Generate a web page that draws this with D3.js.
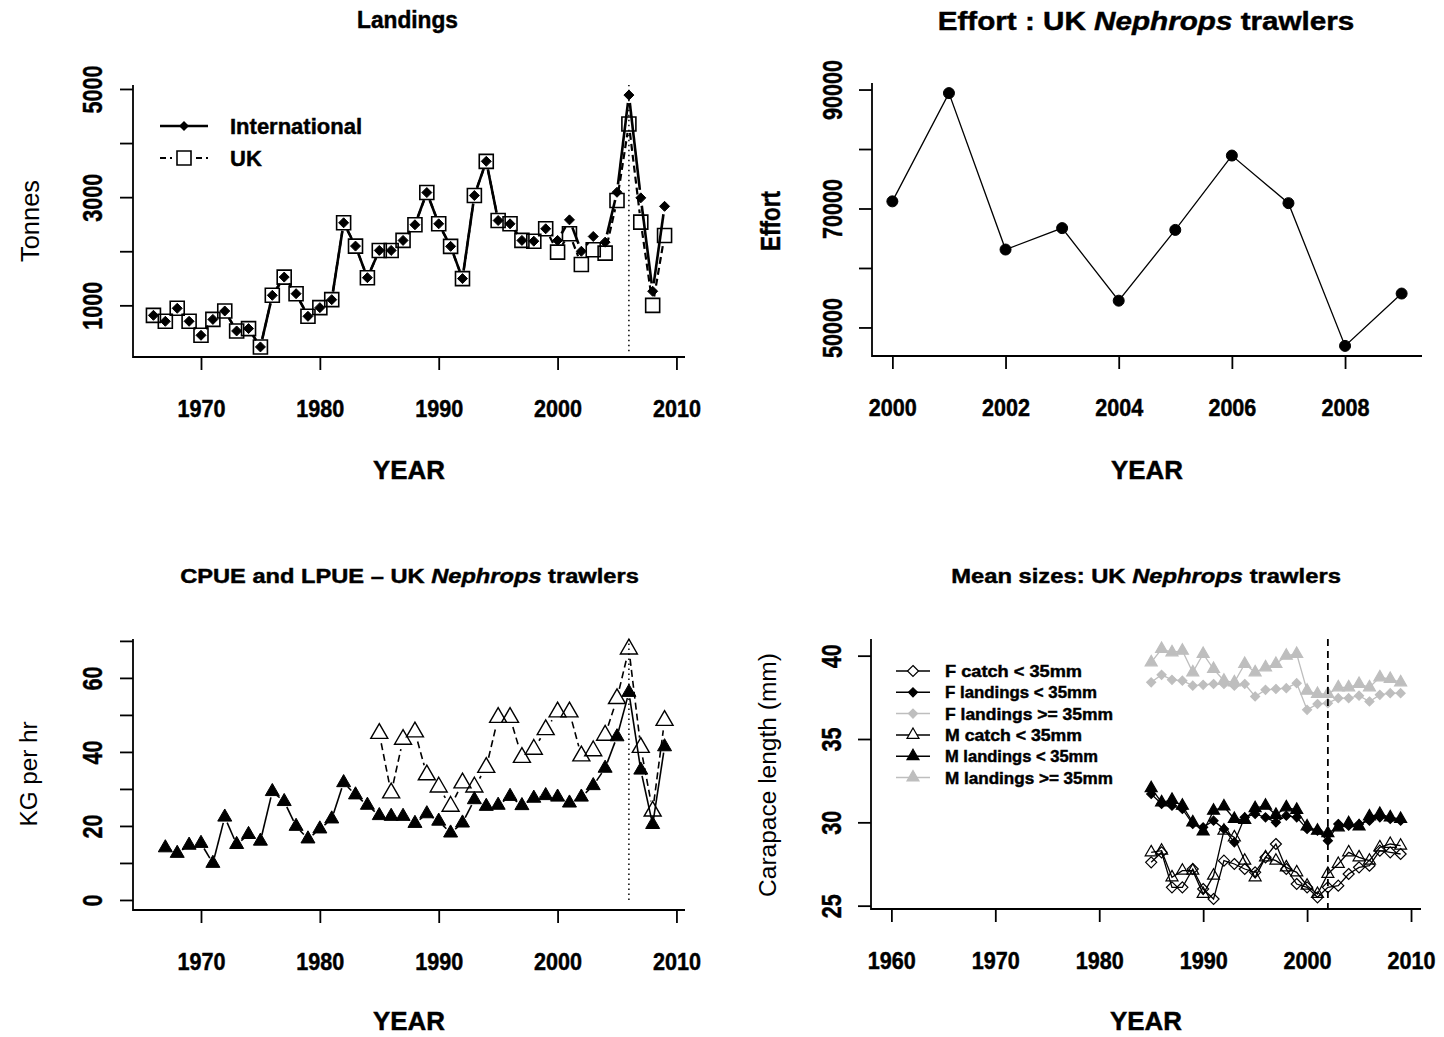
<!DOCTYPE html>
<html>
<head>
<meta charset="utf-8">
<script src="https://cdn.jsdelivr.net/npm/d3@7"></script>
<style>
  body { margin: 0; background: #fff; }
  svg text { font-family: "Liberation Sans", Arial, Helvetica, sans-serif; fill: #000; }
  svg text.heavy { stroke: #000; stroke-width: 0.45px; }
</style>
</head>
<body>
<svg id="fig" width="1444" height="1037"></svg>
<script>
// ---- Landings (tonnes) ----
const landYears = [1966, 1967, 1968, 1969, 1970, 1971, 1972, 1973, 1974, 1975, 1976, 1977, 1978, 1979,
  1980, 1981, 1982, 1983, 1984, 1985, 1986, 1987, 1988, 1989, 1990, 1991, 1992, 1993, 1994, 1995,
  1996, 1997, 1998, 1999, 2000, 2001, 2002, 2003, 2004, 2005, 2006, 2007, 2008, 2009];
const landIntl = [815, 705, 945, 705, 446, 740, 895, 526, 570, 231, 1185, 1522, 1215, 797,
  957, 1105, 2526, 2095, 1511, 2015, 2015, 2200, 2489, 3085, 2507, 2090, 1494, 3030, 3662, 2568,
  2507, 2200, 2186, 2415, 2200, 2580, 2000, 2273, 2168, 3090, 4887, 2987, 1260, 2830];
const landUK = [815, 705, 945, 705, 446, 740, 895, 526, 570, 231, 1185, 1522, 1215, 797,
  957, 1105, 2526, 2095, 1511, 2015, 2015, 2200, 2489, 3085, 2507, 2090, 1494, 3030, 3662, 2568,
  2507, 2200, 2186, 2415, 1983, 2322, 1756, 2028, 1965, 2937, 4352, 2539, 1000, 2290];
const landXTicks = [1970, 1980, 1990, 2000, 2010];
const landYTicks = [1000, 2000, 3000, 4000, 5000];
const landYLabels = [1000, 3000, 5000];
const landMarkYear = 2006;

// ---- Effort ----
const effortYears = [2000, 2001, 2002, 2003, 2004, 2005, 2006, 2007, 2008, 2009];
const effort = [71200, 89400, 63100, 66700, 54500, 66400, 78900, 70900, 46900, 55700];
const effortXTicks = [2000, 2002, 2004, 2006, 2008];
const effortYTicks = [50000, 60000, 70000, 80000, 90000];
const effortYLabels = [50000, 70000, 90000];

// ---- CPUE / LPUE (kg per hr) ----
const lpueYears = [1967, 1968, 1969, 1970, 1971, 1972, 1973, 1974, 1975, 1976, 1977, 1978, 1979,
  1980, 1981, 1982, 1983, 1984, 1985, 1986, 1987, 1988, 1989, 1990, 1991, 1992, 1993, 1994, 1995,
  1996, 1997, 1998, 1999, 2000, 2001, 2002, 2003, 2004, 2005, 2006, 2007, 2008, 2009];
const lpue = [14.1, 12.6, 14.8, 15.3, 9.9, 22.4, 15.0, 17.7, 15.9, 29.3, 26.6, 19.9, 16.5,
  19.2, 21.9, 31.7, 28.4, 25.6, 22.8, 22.6, 22.6, 20.7, 23.3, 21.3, 18.1, 20.8, 27.1, 25.3, 25.6,
  28.0, 25.5, 27.5, 28.2, 27.8, 26.2, 27.8, 30.9, 35.6, 44.1, 56.1, 35.1, 20.4, 41.4];
const cpueYears = [1985, 1986, 1987, 1988, 1989, 1990, 1991, 1992, 1993, 1994, 1995, 1996, 1997,
  1998, 1999, 2000, 2001, 2002, 2003, 2004, 2005, 2006, 2007, 2008, 2009];
const cpue = [45.0, 28.9, 43.4, 45.4, 33.8, 30.5, 25.3, 31.6, 30.5, 35.8, 49.3, 49.3, 38.5,
  40.7, 46.0, 50.8, 50.8, 38.9, 40.3, 44.5, 54.4, 67.8, 41.2, 24.0, 48.5];
const puePanelYRange = [0, 67.8];
const pueYTicks = [0, 10, 20, 30, 40, 50, 60, 70];
const pueYLabels = [0, 20, 40, 60];
const pueMarkYear = 2006;

// ---- Mean sizes (carapace length, mm) ----
const sizeYears = [1985, 1986, 1987, 1988, 1989, 1990, 1991, 1992, 1993, 1994, 1995, 1996, 1997,
  1998, 1999, 2000, 2001, 2002, 2003, 2004, 2005, 2006, 2007, 2008, 2009];
const fCatch = [27.6, 28.2, 26.1, 26.1, 27.2, 26.0, 25.4, 27.7, 27.5, 27.2, 27.0, 27.9, 28.7,
  27.2, 26.3, 26.1, 25.5, 26.1, 26.2, 26.9, 27.3, 27.4, 28.3, 28.2, 28.1];
const fLand = [31.7, 31.1, 31.0, 30.8, 29.9, 29.7, 30.1, 29.6, 28.8, 30.3, 30.5, 30.3, 30.0,
  30.4, 30.3, 29.6, 29.5, 28.9, 29.9, 29.8, 29.9, 30.1, 30.3, 30.2, 30.1];
const fLandLarge = [38.4, 38.85, 38.55, 38.5, 38.2, 38.25, 38.3, 38.3, 38.2, 38.3, 37.55, 37.95, 38.0,
  38.05, 38.35, 36.75, 37.1, 37.15, 37.45, 37.45, 37.6, 37.25, 37.65, 37.75, 37.75];
const mCatch = [28.2, 28.3, 26.7, 27.1, 27.1, 25.7, 26.8, 29.5, 29.1, 27.7, 26.7, 27.9, 27.7,
  27.3, 27.0, 26.2, 25.7, 26.9, 27.5, 28.2, 27.9, 27.7, 28.5, 28.7, 28.6];
const mLand = [32.05, 31.2, 31.35, 31.0, 30.0, 29.45, 30.7, 30.95, 30.2, 30.15, 30.85, 31.0, 30.45,
  30.9, 30.75, 29.75, 29.5, 29.35, 29.7, 29.95, 29.75, 30.35, 30.5, 30.3, 30.2];
const mLandLarge = [39.6, 40.4, 40.2, 40.3, 39.0, 40.1, 39.2, 38.5, 38.4, 39.5, 39.0, 39.3, 39.5,
  40.0, 40.1, 37.9, 37.7, 37.7, 38.1, 38.1, 38.3, 38.1, 38.7, 38.6, 38.4];
const sizeLabels = ["F catch < 35mm", "F landings < 35mm", "F landings >= 35mm",
  "M catch < 35mm", "M landings < 35mm", "M landings >= 35mm"];
const sizeXRange = [1960, 2009];
const sizeXTicks = [1960, 1970, 1980, 1990, 2000, 2010];
const sizeYTicks = [25, 30, 35, 40];
const sizeMarkYear = 2002;

// legend text widths measured on the picture (layout, not data)
const sizeLegendWidths = [137, 152, 168, 137, 153, 168];

const GREY = "#bebebe";
const svg = d3.select("#fig");
svg.append("rect").attr("width", 1444).attr("height", 1037).attr("fill", "#fff");

// R style 4% axis extension
const rExt = ([a, b]) => { const d = b - a; return [a - 0.04 * d, b + 0.04 * d]; };

function symPath(kind, s) {
  const h = s / 2;
  if (kind === "square") return `M${-h},${-h}H${h}V${h}H${-h}Z`;
  if (kind === "diamond") return `M0,${-h}L${h},0L0,${h}L${-h},0Z`;
  if (kind === "triangle") {
    const r = s / Math.sqrt(3);
    return `M0,${-r}L${h},${r / 2}L${-h},${r / 2}Z`;
  }
  return d3.symbol(d3.symbolCircle, Math.PI * h * h)();
}

// text squeezed/stretched to a measured width
function label(g, x, y, parts, o) {
  const t = g.append("text").attr("text-anchor", "middle")
    .attr("class", o.bold ? "heavy" : null)
    .attr("font-size", o.size).attr("font-weight", o.bold ? "bold" : "normal");
  parts.forEach(p => t.append("tspan").text(p.t).attr("font-style", p.i ? "italic" : null));
  const w = t.node().getComputedTextLength();
  const sx = o.width ? o.width / w : 1;
  t.attr("transform", `translate(${x},${y})${o.rot ? ` rotate(${o.rot})` : ""} scale(${sx},1)`);
  return t;
}

function panel(box, xDom, yDom) {
  const x = d3.scaleLinear().domain(xDom).range([box.left, box.right]);
  const y = d3.scaleLinear().domain(yDom).range([box.bottom, box.top]);
  const g = svg.append("g");
  g.append("path")
    .attr("d", `M${box.left},${box.top}V${box.bottom}H${box.right}`)
    .attr("fill", "none").attr("stroke", "#000").attr("stroke-width", 1.8);
  return { g, x, y, box };
}

function axes(p, o) {
  const xa = p.g.append("g").attr("transform", `translate(0,${p.box.bottom})`)
    .call(d3.axisBottom(p.x).tickValues(o.xTicks).tickSize(13).tickFormat(d3.format("d")));
  xa.select(".domain").remove();
  xa.selectAll("line").attr("stroke-width", 1.8);
  xa.selectAll("text").attr("y", 60).attr("dy", null).attr("class", "heavy")
    .attr("font-size", 23).attr("font-weight", "bold")
    .attr("textLength", d => String(d).length * 12).attr("lengthAdjust", "spacingAndGlyphs");

  const ya = p.g.append("g").attr("transform", `translate(${p.box.left},0)`)
    .call(d3.axisLeft(p.y).tickValues(o.yTicks).tickSize(13)
      .tickFormat(d => o.yLabels.includes(d) ? String(d) : ""));
  ya.select(".domain").remove();
  ya.selectAll("line").attr("stroke-width", 1.8);
  ya.selectAll("text")
    .attr("x", 0).attr("y", 0).attr("dy", null).attr("text-anchor", "middle")
    .attr("transform", `translate(${-o.yLabOff},0) rotate(-90)`)
    .attr("class", "heavy").attr("font-size", 27).attr("font-weight", "bold")
    .each(function(d) {
      if (o.yLabels.includes(d)) {
        d3.select(this).attr("textLength", String(d).length * 12)
          .attr("lengthAdjust", "spacingAndGlyphs");
      }
    });
}

function series(p, xs, ys, o) {
  const pts = xs.map((v, i) => [p.x(v), p.y(ys[i])]);
  const lg = p.g.append("g").attr("fill", "none").attr("stroke", o.color)
    .attr("stroke-width", o.lw).attr("stroke-dasharray", o.dash || null);
  if (o.type === "o") {
    lg.append("path").attr("d", d3.line()(pts));
  } else {
    pts.slice(1).forEach((b, i) => {
      const a = pts[i];
      const dx = b[0] - a[0], dy = b[1] - a[1], len = Math.hypot(dx, dy);
      if (len > 2 * o.gap) {
        const ux = dx / len, uy = dy / len;
        lg.append("path").attr("d", d3.line()([
          [a[0] + ux * o.gap, a[1] + uy * o.gap], [b[0] - ux * o.gap, b[1] - uy * o.gap]]));
      }
    });
  }
  p.g.append("g").selectAll("path").data(pts).join("path")
    .attr("d", symPath(o.sym, o.size))
    .attr("transform", d => `translate(${d[0]},${d[1]})`)
    .attr("fill", o.fill ? o.color : "none")
    .attr("stroke", o.color).attr("stroke-width", o.sw || 1.4);
}

function vline(p, xv, y0, y1, dash, lw) {
  p.g.append("line").attr("x1", p.x(xv)).attr("x2", p.x(xv)).attr("y1", y0).attr("y2", y1)
    .attr("stroke", "#000").attr("stroke-width", lw).attr("stroke-dasharray", dash);
}

// ===== Panel 1: Landings =====
const p1 = panel({ left: 133, right: 685, top: 85, bottom: 357 },
  rExt(d3.extent(landYears)), rExt(d3.extent(landIntl.concat(landUK))));
axes(p1, { xTicks: landXTicks, yTicks: landYTicks, yLabels: landYLabels, yLabOff: 31 });
vline(p1, landMarkYear, p1.y(150), p1.box.top, "1.5,3.5", 1.5);
series(p1, landYears, landUK, { type: "b", gap: 9, color: "#000", lw: 2.2, dash: "7,4", sym: "square", size: 14, sw: 1.6 });
series(p1, landYears, landIntl, { type: "b", gap: 8, color: "#000", lw: 2.6, sym: "diamond", size: 10, fill: true, sw: 1 });
label(svg, 407.5, 28, [{ t: "Landings" }], { size: 23, bold: true, width: 101 });
label(svg, 39, 221, [{ t: "Tonnes" }], { size: 25, rot: -90, width: 82 });
label(svg, 409, 479, [{ t: "YEAR" }], { size: 25, bold: true, width: 72 });
// legend
const lg1 = svg.append("g");
lg1.append("line").attr("x1", 160).attr("x2", 208).attr("y1", 126).attr("y2", 126)
  .attr("stroke", "#000").attr("stroke-width", 2.6);
lg1.append("path").attr("d", symPath("diamond", 10)).attr("transform", "translate(184,126)");
[[160, 172], [196, 208]].forEach(([a, b]) =>
  lg1.append("line").attr("x1", a).attr("x2", b).attr("y1", 158).attr("y2", 158)
    .attr("stroke", "#000").attr("stroke-width", 2.2).attr("stroke-dasharray", "6,4"));
lg1.append("path").attr("d", symPath("square", 14)).attr("transform", "translate(184,158)")
  .attr("fill", "none").attr("stroke", "#000").attr("stroke-width", 1.6);
lg1.append("text").attr("class", "heavy").attr("x", 230).attr("y", 134)
  .attr("font-size", 22).attr("font-weight", "bold").text("International");
lg1.append("text").attr("class", "heavy").attr("x", 230).attr("y", 166)
  .attr("font-size", 22).attr("font-weight", "bold").text("UK");

// ===== Panel 2: Effort =====
const p2 = panel({ left: 872, right: 1422, top: 83, bottom: 356 },
  rExt(d3.extent(effortYears)), rExt(d3.extent(effort)));
axes(p2, { xTicks: effortXTicks, yTicks: effortYTicks, yLabels: effortYLabels, yLabOff: 30 });
series(p2, effortYears, effort, { type: "o", color: "#000", lw: 1.3, sym: "circle", size: 11, fill: true, sw: 1 });
label(svg, 1146, 30, [{ t: "Effort : UK " }, { t: "Nephrops", i: true }, { t: " trawlers" }],
  { size: 26, bold: true, width: 417 });
label(svg, 780, 221, [{ t: "Effort" }], { size: 27, bold: true, rot: -90, width: 60 });
label(svg, 1147, 479, [{ t: "YEAR" }], { size: 25, bold: true, width: 72 });

// ===== Panel 3: CPUE and LPUE =====
const p3 = panel({ left: 133, right: 685, top: 639, bottom: 910 },
  rExt(d3.extent(landYears)), rExt(puePanelYRange));
axes(p3, { xTicks: landXTicks, yTicks: pueYTicks, yLabels: pueYLabels, yLabOff: 31 });
vline(p3, pueMarkYear, p3.y(0), p3.box.top, "1.5,3.5", 1.5);
series(p3, cpueYears, cpue, { type: "b", gap: 10, color: "#000", lw: 1.6, dash: "7,4", sym: "triangle", size: 17, sw: 1.4 });
series(p3, lpueYears, lpue, { type: "b", gap: 6, color: "#000", lw: 1.6, sym: "triangle", size: 14, fill: true, sw: 1 });
label(svg, 409.5, 583, [{ t: "CPUE and LPUE \u2013 UK " }, { t: "Nephrops", i: true }, { t: " trawlers" }],
  { size: 21, bold: true, width: 459 });
label(svg, 37, 774, [{ t: "KG per hr" }], { size: 24, rot: -90, width: 105 });
label(svg, 409, 1030, [{ t: "YEAR" }], { size: 25, bold: true, width: 72 });

// ===== Panel 4: Mean sizes =====
const sizeAll = fCatch.concat(fLand, fLandLarge, mCatch, mLand, mLandLarge);
const p4 = panel({ left: 871, right: 1421, top: 639, bottom: 909 },
  rExt(sizeXRange), rExt(d3.extent(sizeAll)));
axes(p4, { xTicks: sizeXTicks, yTicks: sizeYTicks, yLabels: sizeYTicks, yLabOff: 30 });
const sizeStyles = [
  { data: fCatch, color: "#000", sym: "diamond", size: 11, fill: false },
  { data: fLand, color: "#000", sym: "diamond", size: 9, fill: true },
  { data: fLandLarge, color: GREY, sym: "diamond", size: 9, fill: true },
  { data: mCatch, color: "#000", sym: "triangle", size: 12, fill: false },
  { data: mLand, color: "#000", sym: "triangle", size: 12, fill: true },
  { data: mLandLarge, color: GREY, sym: "triangle", size: 12, fill: true }
];
sizeStyles.forEach(s => series(p4, sizeYears, s.data,
  { type: "o", color: s.color, lw: 1.3, sym: s.sym, size: s.size, fill: s.fill, sw: 1.2 }));
vline(p4, sizeMarkYear, p4.box.top, p4.box.bottom, "7,5", 1.8);
label(svg, 1146, 583, [{ t: "Mean sizes: UK " }, { t: "Nephrops", i: true }, { t: " trawlers" }],
  { size: 21, bold: true, width: 390 });
label(svg, 776, 775, [{ t: "Carapace length (mm)" }], { size: 24, rot: -90, width: 244 });
label(svg, 1146, 1030, [{ t: "YEAR" }], { size: 25, bold: true, width: 72 });
// legend
const lg4 = svg.append("g");
sizeStyles.forEach((s, i) => {
  const yy = 671 + i * 21.3;
  lg4.append("line").attr("x1", 896).attr("x2", 930).attr("y1", yy).attr("y2", yy)
    .attr("stroke", s.color).attr("stroke-width", 1.5);
  lg4.append("path").attr("d", symPath(s.sym, s.size)).attr("transform", `translate(913,${yy})`)
    .attr("fill", s.fill ? s.color : "#fff").attr("stroke", s.color).attr("stroke-width", 1.2);
  lg4.append("text").attr("class", "heavy").attr("x", 945).attr("y", yy + 6)
    .attr("font-size", 16.5).attr("font-weight", "bold")
    .attr("textLength", sizeLegendWidths[i]).attr("lengthAdjust", "spacingAndGlyphs")
    .text(sizeLabels[i]);
});
</script>
</body>
</html>
